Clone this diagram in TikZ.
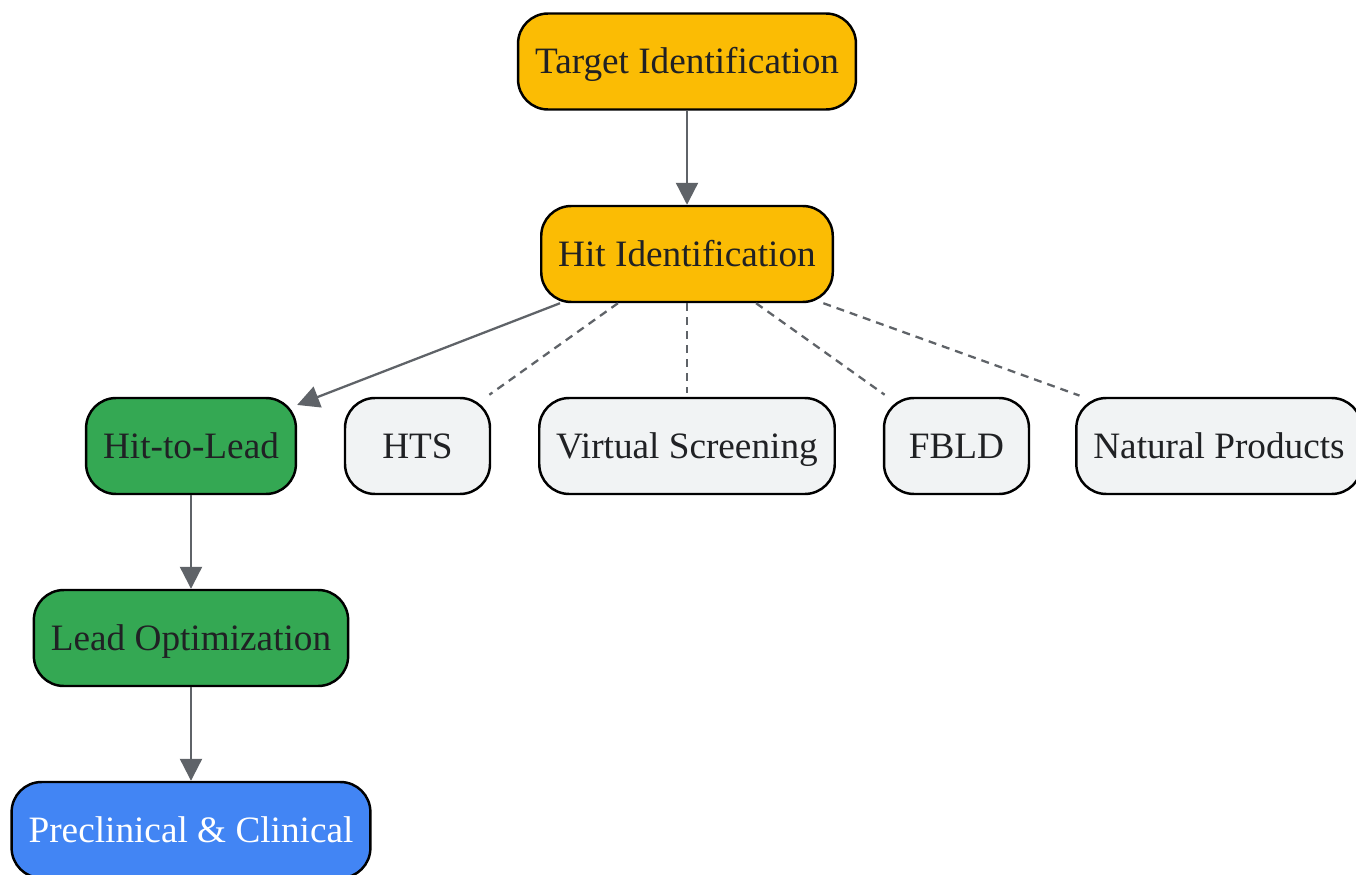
\documentclass[tikz,border=0pt]{standalone}
\usepackage{fontspec}
\setmainfont{Liberation Serif}
\definecolor{gyellow}{HTML}{FBBC04}
\definecolor{ggreen}{HTML}{34A853}
\definecolor{gblue}{HTML}{4285F4}
\definecolor{glight}{HTML}{F1F3F4}
\definecolor{gline}{HTML}{5F6368}
\definecolor{gtext}{HTML}{202124}
\usetikzlibrary{arrows.meta,positioning}

\begin{document}
\begin{tikzpicture}[x=0.02cm, y=-0.02cm,
    stage/.style={draw=black, line width=1.4pt, rounded corners=0.6cm, minimum height=1.92cm, minimum width=2.9cm, inner xsep=0.34cm, text height=14pt, text depth=0pt, text=gtext, font=\fontsize{21.2}{25}\selectfont},
    flow/.style={-{Triangle[length=0.44cm,width=0.44cm]}, gline, line width=1.3pt},
    method/.style={gline, line width=1.3pt, dash pattern=on 0.16cm off 0.12cm, shorten >=2pt}]
    \useasboundingbox (0,0) rectangle (1356,875);

    % Main stages
    \node[stage, fill=gyellow] (target) at (687,61.5) {Target Identification};
    \node[stage, fill=gyellow] (hit) at (687,254) {Hit Identification};
    \node[stage, fill=ggreen] (h2l) at (191,446) {Hit-to-Lead};
    \node[stage, fill=ggreen] (leadopt) at (191,638) {Lead Optimization};
    \node[stage, fill=gblue, text=white] (clinic) at (191,830) {Preclinical \& Clinical};

    % Hit identification methods
    \foreach \x/\name/\txt in {417.5/hts/HTS, 687/vs/Virtual Screening, 956.5/fbld/FBLD, 1219/np/Natural Products} {
        \node[stage, fill=glight] (\name) at (\x,446) {\txt};
        \draw[method] (hit) -- (\name);
    }

    % Pipeline flow
    \draw[flow] (target) -- (hit);
    \draw[flow] (hit) -- (h2l);
    \draw[flow] (h2l) -- (leadopt);
    \draw[flow] (leadopt) -- (clinic);
\end{tikzpicture}
\end{document}
